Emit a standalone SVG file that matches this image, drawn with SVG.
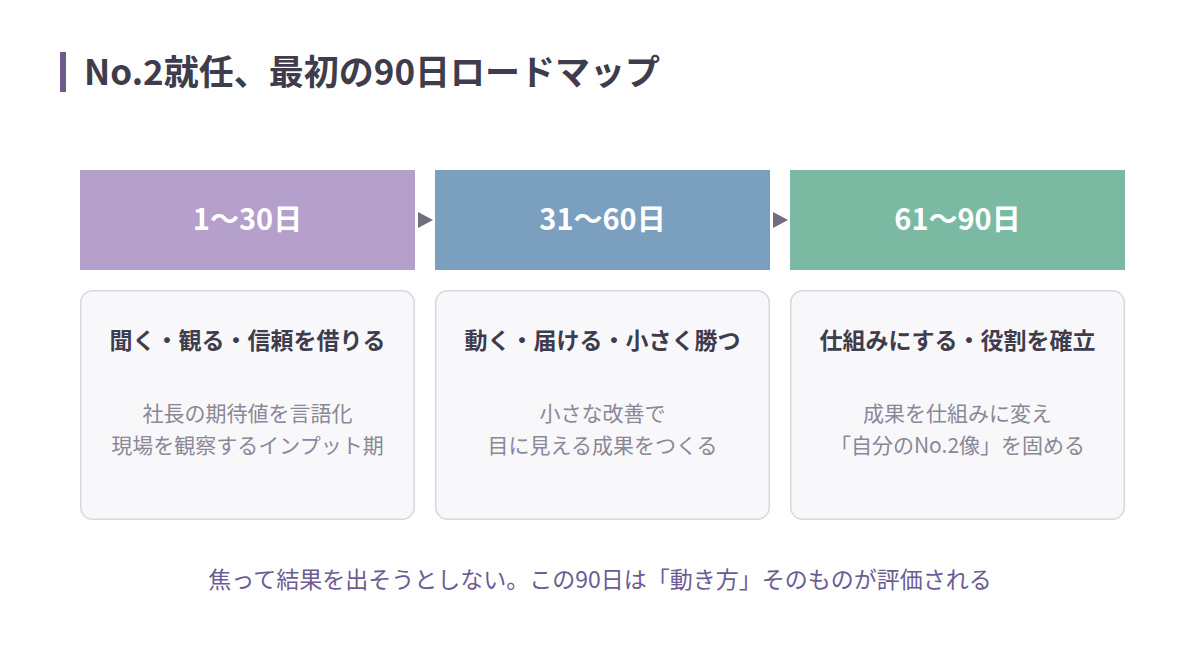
<svg xmlns="http://www.w3.org/2000/svg" width="1200" height="660" viewBox="0 0 1200 660">
<style>
text{font-family:"Noto Sans CJK JP","Noto Sans",sans-serif}
.title{font-size:35px;font-weight:700;fill:#3f3c4b}
.hd{font-size:29px;font-weight:700;fill:#ffffff;text-anchor:middle}
.card{fill:#f8f8fb;stroke:#d8d6e0;stroke-width:1.5}
.ct{font-size:23px;font-weight:700;fill:#3f3c4b;text-anchor:middle}
.cb{font-size:21px;fill:#8a8796;text-anchor:middle}
.ft{font-size:23px;fill:#6b5d93;text-anchor:middle}
.arr{fill:#716c80}
</style>
<rect width="1200" height="660" fill="#ffffff"/>
<rect x="60" y="52" width="6" height="40" fill="#6e5a8e"/>
<text class="title" x="84" y="85">No.2就任、最初の90日ロードマップ</text>
<g id="phase1">
<rect x="80" y="170" width="335" height="100" fill="#b59fcb"/>
<text class="hd" x="247.5" y="230">1〜30日</text>
<rect class="card" x="80.75" y="290.75" width="333.5" height="228.5" rx="12"/>
<text class="ct" x="247.5" y="349">聞く・観る・信頼を借りる</text>
<text class="cb" x="247.5" y="421">社長の期待値を言語化</text>
<text class="cb" x="247.5" y="453">現場を観察するインプット期</text>
</g>
<g id="phase2">
<rect x="435" y="170" width="335" height="100" fill="#7b9fbf"/>
<text class="hd" x="602.5" y="230">31〜60日</text>
<rect class="card" x="435.75" y="290.75" width="333.5" height="228.5" rx="12"/>
<text class="ct" x="602.5" y="349">動く・届ける・小さく勝つ</text>
<text class="cb" x="602.5" y="421">小さな改善で</text>
<text class="cb" x="602.5" y="453">目に見える成果をつくる</text>
</g>
<g id="phase3">
<rect x="790" y="170" width="335" height="100" fill="#7bb9a3"/>
<text class="hd" x="957.5" y="230">61〜90日</text>
<rect class="card" x="790.75" y="290.75" width="333.5" height="228.5" rx="12"/>
<text class="ct" x="957.5" y="349">仕組みにする・役割を確立</text>
<text class="cb" x="957.5" y="421">成果を仕組みに変え</text>
<text class="cb" x="957.5" y="453">「自分のNo.2像」を固める</text>
</g>
<g id="connectors">
<polygon class="arr" points="418,212 433,220 418,228"/>
<polygon class="arr" points="773,212 788,220 773,228"/>
</g>
<text class="ft" x="600" y="588">焦って結果を出そうとしない。この90日は「動き方」そのものが評価される</text>
</svg>
